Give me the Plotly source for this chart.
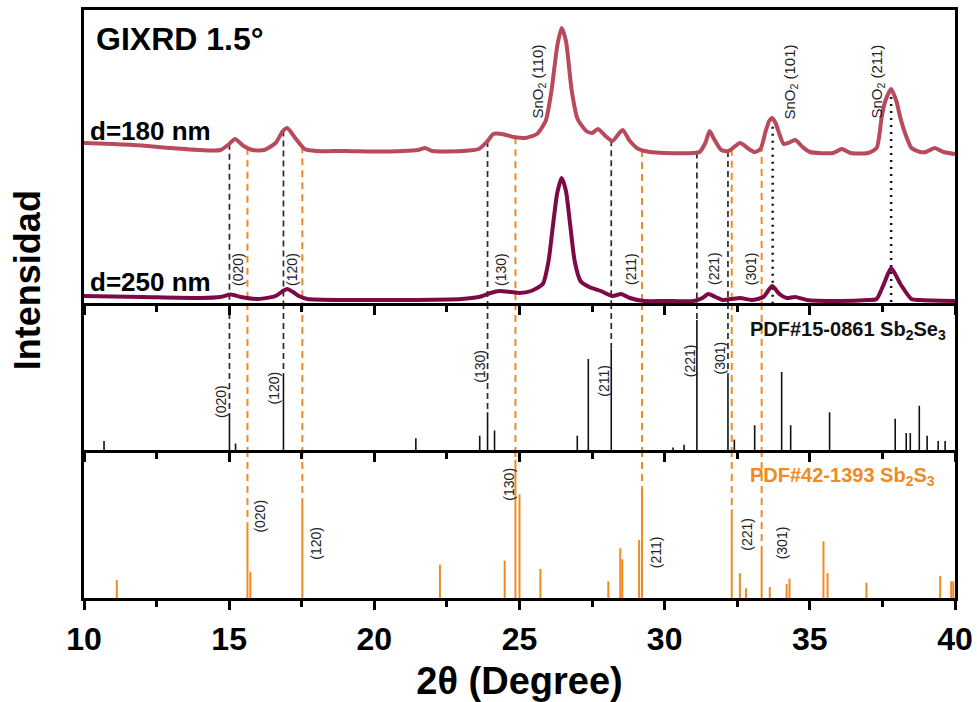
import numpy as np
import plotly.graph_objects as go

# ---------------- measured patterns (GIXRD, incidence 1.5 deg) ----------------
two_theta_180 = [10.0, 11.0, 12.0, 13.0, 14.0, 14.7, 15.0, 15.2, 15.5, 15.8, 16.2, 16.6, 16.85, 17.0,
                 17.3, 17.6, 18.0, 19.0, 20.0, 21.0, 21.5, 21.75, 22.0, 23.0, 23.6, 23.9, 24.1, 24.4,
                 24.8, 25.2, 25.6, 25.9, 26.1, 26.3, 26.45, 26.6, 26.8, 27.0, 27.3, 27.5, 27.7, 28.0,
                 28.2, 28.55, 28.8, 29.1, 29.5, 30.0, 31.0, 31.2, 31.4, 31.55, 31.7, 31.95, 32.2,
                 32.6, 32.9, 33.1, 33.3, 33.48, 33.6, 33.7, 33.82, 33.95, 34.1, 34.25, 34.5, 34.75,
                 35.0, 35.8, 36.1, 36.4, 37.0, 37.3, 37.4, 37.47, 37.6, 37.8, 37.98, 38.12, 38.29,
                 38.5, 38.8, 39.0, 39.3, 39.6, 40.0]
counts_180 = [20, 19, 17.5, 15, 13, 13, 19, 24, 17, 13, 13, 20, 32, 35,
              24, 14, 12, 12, 11.5, 12, 13, 15, 12, 12, 14, 22, 29, 29,
              26, 25, 29, 42, 72, 117, 135, 122, 72, 44, 32, 30, 34, 26,
              22, 33, 22, 14, 11, 10, 10, 11, 20, 32, 24, 13, 12,
              20, 14, 11, 14, 32, 42, 45, 40, 29, 19, 20, 23, 16,
              11, 10, 14, 10, 10, 15, 29, 45, 62, 74, 62, 45, 29,
              15, 11, 11, 15, 11, 9]

two_theta_250 = [10.0, 12.0, 14.0, 14.7, 15.05, 15.4, 16.0, 16.6, 16.85, 17.0, 17.2, 17.4, 17.7, 19.0,
                 21.0, 23.0, 23.6, 24.0, 24.3, 24.7, 25.0, 25.4, 25.8, 26.0, 26.15, 26.3, 26.45, 26.6,
                 26.75, 26.9, 27.1, 27.4, 27.8, 28.2, 28.5, 28.8, 29.3, 30.0, 31.0, 31.3, 31.5, 31.75,
                 32.0, 32.3, 32.6, 33.0, 33.4, 33.7, 33.95, 34.2, 34.5, 34.9, 36.0, 37.0, 37.3, 37.55,
                 37.8, 38.12, 38.5, 38.8, 40.0]
counts_250 = [7, 6, 5, 6, 8.5, 6, 4, 7, 12, 14, 11, 7, 4, 3,
              3, 4, 6, 10, 12, 11, 10, 12, 19, 42, 77, 110, 125, 112,
              77, 42, 22, 16, 12, 7, 9, 5, 2, 2, 2, 5, 9, 6,
              3, 4, 5, 3, 6, 17, 9, 5, 6, 3, 2, 3, 4, 19,
              35, 19, 4, 3, 2]

OFFSET_180 = 140  # vertical stacking of the d=180 nm pattern

# ---------------- reference cards ----------------
sb2se3_pos = [10.69, 15.01, 15.22, 16.87, 21.43, 23.63, 23.90, 24.14, 26.99, 27.37, 28.16, 30.29,
              30.67, 31.11, 32.18, 32.40, 33.10, 34.03, 34.34, 35.68, 37.94, 38.32, 38.46, 38.77,
              39.04, 39.42, 39.66]
sb2se3_int = [7, 27, 5, 59, 9, 11, 29, 15, 11, 70, 78, 2,
              4, 100, 58, 8, 19, 60, 19, 29, 24, 13, 13, 34,
              11, 7, 7]

sb2s3_pos = [11.13, 15.63, 15.73, 17.52, 22.26, 24.49, 24.86, 25.00, 25.72, 28.06, 28.47, 28.54,
             29.12, 29.22, 32.31, 32.59, 32.80, 33.34, 33.62, 34.20, 34.30, 35.47, 35.61, 36.95,
             39.49, 39.87, 39.94]
sb2s3_int = [13, 54, 19, 72, 24, 27, 100, 75, 21, 12, 36, 28,
             42, 80, 64, 18, 7, 34, 8, 10, 14, 41, 18, 11,
             16, 12, 12]

hkl_labels = ["(020)", "(120)", "(130)", "(211)", "(221)", "(301)"]
se_hkl_pos = [15.01, 16.87, 23.90, 28.16, 31.11, 32.18]
s_hkl_pos = [15.63, 17.52, 24.86, 29.22, 32.31, 33.34]

sno2_labels = ["SnO<sub>2</sub> (110)", "SnO<sub>2</sub> (101)", "SnO<sub>2</sub> (211)"]
sno2_dotted_pos = [33.72, 37.80]

x_ticks = [10, 15, 20, 25, 30, 35, 40]
x_minor = [12.5, 17.5, 22.5, 27.5, 32.5, 37.5]

# ---------------- styling ----------------
C180 = "#b84a5c"
C250 = "#7c0a46"
ORANGE = "#f08a22"
FONT = "Liberation Sans, Arial, sans-serif"
Y1_MAX, Y2_MAX, Y3_MAX = 293, 113, 107

# subplot pairs: pattern panel, Sb2Se3 card, Sb2S3 card
P1 = ("x3", "y")
P2 = ("x2", "y2")
P3 = ("x", "y3")

top_180 = np.array(counts_180) + OFFSET_180


def stick_height(pos, positions, intensities):
    i = int(np.argmin(np.abs(np.array(positions) - pos)))
    return intensities[i]


def curve_at(x):
    return float(np.interp(x, two_theta_180, top_180))


def segments(xs, y0s, y1s):
    px, py = [], []
    for x, a, b in zip(xs, y0s, y1s):
        px += [x, x, None]
        py += [a, b, None]
    return px, py


fig = go.Figure()


def add_lines(xs, y0s, y1s, panel, color, width, dash):
    px, py = segments(xs, y0s, y1s)
    fig.add_trace(go.Scatter(x=px, y=py, xaxis=panel[0], yaxis=panel[1], mode="lines",
                             line=dict(color=color, width=width, dash=dash),
                             hoverinfo="skip", showlegend=False))


# guide lines (drawn first, under the patterns)
BLACK_DASH = "6px,4px"
OR_DASH = "7px,5px"
n = len(se_hkl_pos)
# Sb2Se3 guides: pattern -> card stick top
add_lines(se_hkl_pos, [curve_at(p) for p in se_hkl_pos], [0] * n, P1, "#2a2a2a", 1.7, BLACK_DASH)
add_lines(se_hkl_pos, [Y2_MAX] * n, [stick_height(p, sb2se3_pos, sb2se3_int) for p in se_hkl_pos],
          P2, "#2a2a2a", 1.7, BLACK_DASH)
# Sb2S3 guides: pattern -> through the Sb2Se3 card -> Sb2S3 stick top
add_lines(s_hkl_pos, [curve_at(p) for p in s_hkl_pos], [0] * n, P1, ORANGE, 2, OR_DASH)
add_lines(s_hkl_pos, [Y2_MAX] * n, [0] * n, P2, ORANGE, 2, OR_DASH)
add_lines(s_hkl_pos, [Y3_MAX] * n, [stick_height(p, sb2s3_pos, sb2s3_int) for p in s_hkl_pos],
          P3, ORANGE, 2, OR_DASH)
# SnO2 guides
add_lines(sno2_dotted_pos, [curve_at(p) - 8 for p in sno2_dotted_pos], [0, 0], P1, "#111111", 2.5,
          "2px,5px")

# patterns
fig.add_trace(go.Scatter(x=two_theta_250, y=counts_250, xaxis=P1[0], yaxis=P1[1], mode="lines",
                         line=dict(color=C250, width=4, shape="spline", smoothing=0.6),
                         hoverinfo="skip", showlegend=False))
fig.add_trace(go.Scatter(x=two_theta_180, y=top_180, xaxis=P1[0], yaxis=P1[1], mode="lines",
                         line=dict(color=C180, width=4, shape="spline", smoothing=0.6),
                         hoverinfo="skip", showlegend=False))

# reference sticks
sx, sy = segments(sb2se3_pos, [0] * len(sb2se3_pos), sb2se3_int)
fig.add_trace(go.Scatter(x=sx, y=sy, xaxis=P2[0], yaxis=P2[1], mode="lines",
                         line=dict(color="#111111", width=1.6), hoverinfo="skip", showlegend=False))
sx, sy = segments(sb2s3_pos, [0] * len(sb2s3_pos), sb2s3_int)
fig.add_trace(go.Scatter(x=sx, y=sy, xaxis=P3[0], yaxis=P3[1], mode="lines",
                         line=dict(color=ORANGE, width=2), hoverinfo="skip", showlegend=False))

# ---------------- axes ----------------
D3 = [0, 0.2517]
D2 = [0.2517, 0.5017]
D1 = [0.5017, 1]


def x_axis(**kw):
    base = dict(range=[10, 40], showline=True, linecolor="black", linewidth=3,
                ticks="outside", tickvals=x_ticks, ticklen=9, tickwidth=3, tickcolor="black",
                minor=dict(tickvals=x_minor, ticks="outside", ticklen=6, tickwidth=2.5,
                           tickcolor="black"),
                showgrid=False, zeroline=False, automargin=False)
    base.update(kw)
    return base


def y_axis(**kw):
    base = dict(showline=True, linecolor="black", linewidth=3, mirror=True, ticks="",
                showticklabels=False, showgrid=False, zeroline=False, automargin=False)
    base.update(kw)
    return base


fig.update_layout(
    width=977, height=702,
    margin=dict(l=84, r=22, t=10, b=104),
    paper_bgcolor="white", plot_bgcolor="white",
    font=dict(family=FONT, color="black"),
    xaxis=x_axis(anchor="y3",
                 ticktext=[str(t) for t in x_ticks],
                 tickfont=dict(size=32, family=FONT, weight="bold"),
                 ticklabelstandoff=2,
                 title=dict(text="2θ (Degree)", font=dict(size=38, family=FONT, weight="bold"),
                            standoff=16)),
    xaxis2=x_axis(anchor="y2", matches="x", showticklabels=False),
    xaxis3=x_axis(anchor="y", matches="x", showticklabels=False, mirror=True),
    yaxis=y_axis(domain=D1, range=[0, Y1_MAX], anchor="x3"),
    yaxis2=y_axis(domain=D2, range=[0, Y2_MAX], anchor="x2"),
    yaxis3=y_axis(domain=D3, range=[0, Y3_MAX], anchor="x"),
)

# ---------------- text ----------------
ann = []


def label(text, x, y, panel, size=14, color="#222222", angle=-90, xanchor="center",
          weight="normal"):
    ann.append(dict(text=text, x=x, y=y, xref=panel[0], yref=panel[1], showarrow=False,
                    textangle=angle, xanchor=xanchor, yanchor="middle",
                    font=dict(size=size, color=color, family=FONT, weight=weight)))


# pattern panel
label("GIXRD 1.5°", 10.36, 264, P1, size=32, color="black", angle=0, xanchor="left", weight="bold")
label("d=180 nm", 10.13, 172, P1, size=26, color="black", angle=0, xanchor="left", weight="bold")
label("d=250 nm", 10.13, 21, P1, size=26, color="black", angle=0, xanchor="left", weight="bold")
for t, x in zip(sno2_labels, [25.62, 34.30, 37.30]):
    label(t, x, 221, P1, size=15)
for t, x in zip(hkl_labels, [15.30, 17.16, 24.36, 28.84, 31.70, 32.98]):
    label(t, x, 34, P1, size=14)

# Sb2Se3 card panel
for t, x, y in zip(hkl_labels, [14.72, 16.54, 23.64, 27.90, 30.87, 31.90], [37, 48, 64, 53, 69, 71]):
    label(t, x, y, P2, size=14)
label("PDF#15-0861 Sb<sub>2</sub>Se<sub>3</sub>", 32.88, 92, P2, size=20, color="#111111",
      angle=0, xanchor="left", weight="bold")

# Sb2S3 card panel
for t, x, y in zip(hkl_labels, [16.07, 17.99, 24.64, 29.73, 32.85, 34.03], [59, 40, 82, 33, 46, 40]):
    label(t, x, y, P3, size=14)
label("PDF#42-1393 Sb<sub>2</sub>S<sub>3</sub>", 32.88, 88, P3, size=20, color=ORANGE,
      angle=0, xanchor="left", weight="bold")

# shared intensity title
ann.append(dict(text="Intensidad", x=-0.064, y=0.541, xref="paper", yref="paper", showarrow=False,
                textangle=-90, xanchor="center", yanchor="middle",
                font=dict(size=36, color="black", family=FONT, weight="bold")))

fig.update_layout(annotations=ann)

fig.write_html("out.html")
